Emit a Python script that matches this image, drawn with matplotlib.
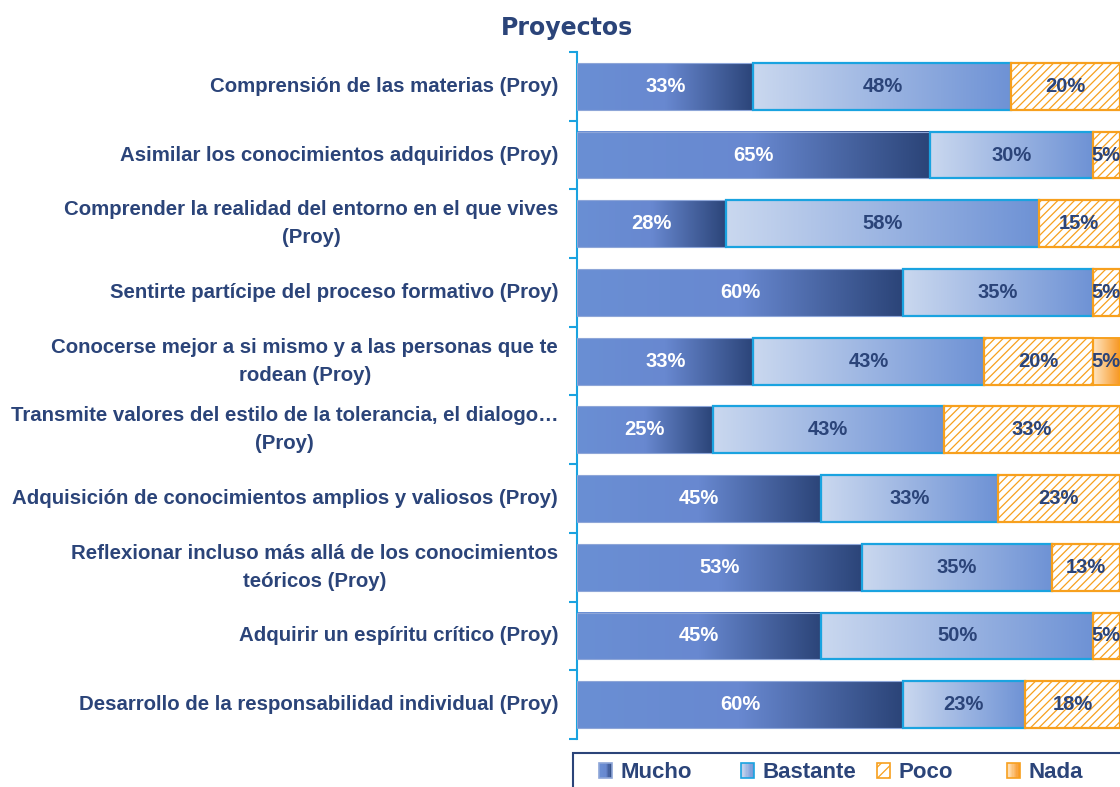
import numpy as np
import matplotlib
matplotlib.use('Agg')
import matplotlib.pyplot as plt
from matplotlib.colors import LinearSegmentedColormap
from matplotlib.patches import Rectangle
from matplotlib.legend_handler import HandlerBase
from matplotlib.transforms import ScaledTranslation

plt.rcParams['font.family'] = ['Liberation Sans', 'DejaVu Sans']
plt.rcParams['hatch.linewidth'] = 0.9

categories = [
    'Comprensión de las materias (Proy)',
    'Asimilar los conocimientos adquiridos (Proy)',
    'Comprender la realidad del entorno en el que vives\n(Proy)',
    'Sentirte partícipe del proceso formativo (Proy)',
    'Conocerse mejor a si mismo y a las personas que te\nrodean (Proy)',
    'Transmite valores del estilo de la tolerancia, el dialogo…\n(Proy)',
    'Adquisición de conocimientos amplios y valiosos (Proy)',
    'Reflexionar incluso más allá de los conocimientos\nteóricos (Proy)',
    'Adquirir un espíritu crítico (Proy)',
    'Desarrollo de la responsabilidad individual (Proy)',
]
mucho = [32.5, 65, 27.5, 60, 32.5, 25, 45, 52.5, 45, 60]
bastante = [47.5, 30, 57.5, 35, 42.5, 42.5, 32.5, 35, 50, 22.5]
poco = [20, 5, 15, 5, 20, 32.5, 22.5, 12.5, 5, 17.5]
nada = [0, 0, 0, 0, 5, 0, 0, 0, 0, 0]
series_names = ['Mucho', 'Bastante', 'Poco', 'Nada']

navy = '#2B4479'
cyan = '#1AA3E0'
orange = '#F7A01E'

cm_mucho = LinearSegmentedColormap.from_list('mucho', ['#6A8FD4', '#6888D0', '#2B4478'])
cm_bast = LinearSegmentedColormap.from_list('bast', ['#CAD8EF', '#6E92D5'])
cm_nada = LinearSegmentedColormap.from_list('nada', ['#FFE6C4', '#F7941D'])

styles = [
    dict(cmap=cm_mucho, edge='#8EA6D8', lw=0.8, hatch=None, txt='white'),
    dict(cmap=cm_bast, edge=cyan, lw=1.6, hatch=None, txt=navy),
    dict(cmap=None, edge=orange, lw=1.6, hatch='////', txt=navy),
    dict(cmap=cm_nada, edge=orange, lw=1.4, hatch=None, txt=navy),
]

fig = plt.figure(figsize=(11.2, 7.87), dpi=100)
ax = fig.add_axes([577 / 1120, 1 - 739 / 787, 1 - 577 / 1120, (739 - 52) / 787])

y = np.arange(len(categories))
h = 0.68
grad = np.linspace(0, 1, 256).reshape(1, -1)
data = [mucho, bastante, poco, nada]
left = np.zeros(len(categories))
for vals, st in zip(data, styles):
    for i, v in enumerate(vals):
        if v <= 0:
            continue
        l = left[i]
        if st['cmap'] is not None:
            ax.imshow(grad, cmap=st['cmap'], aspect='auto', interpolation='bicubic',
                      extent=(l, l + v, y[i] + h / 2, y[i] - h / 2), zorder=2)
            r = Rectangle((l, y[i] - h / 2), v, h, facecolor='none', edgecolor=st['edge'],
                          lw=st['lw'], zorder=3)
        else:
            r = Rectangle((l, y[i] - h / 2), v, h, facecolor='white', edgecolor=st['edge'],
                          lw=st['lw'], hatch=st['hatch'], zorder=3)
        ax.add_patch(r)
        ax.text(l + v / 2, y[i], f'{int(v + 0.5)}%', ha='center', va='center',
                fontsize=14.5, fontweight='bold', color=st['txt'], zorder=5)
    left += np.array(vals)

ax.set_xlim(0, 100)
ax.set_ylim(len(categories) - 0.5, -0.5)
ax.set_xticks([])
ax.set_yticks(y)
ax.set_yticklabels(categories, fontsize=14.7, fontweight='bold', color=navy)
nudge = ScaledTranslation(0, -2 / 100, fig.dpi_scale_trans)
for t in ax.get_yticklabels():
    t.set_multialignment('center')
    t.set_linespacing(1.6)
    t.set_verticalalignment('center')
    t.set_transform(t.get_transform() + nudge)
ax.tick_params(axis='y', which='major', length=0, pad=13.5)
ax.set_yticks(np.arange(len(categories) + 1) - 0.5, minor=True)
ax.tick_params(axis='y', which='minor', length=6, width=1.5, color=cyan)
for s in ['top', 'right', 'bottom']:
    ax.spines[s].set_visible(False)
ax.spines['left'].set_color(cyan)
ax.spines['left'].set_linewidth(1.5)
ax.set_zorder(1)

fig.text(567 / 1120, 1 - 28 / 787, 'Proyectos', ha='center', va='center',
         fontsize=17, fontweight='bold', color=navy, family='DejaVu Sans')


class GradHandler(HandlerBase):
    def __init__(self, st):
        super().__init__()
        self.st = st

    def create_artists(self, legend, orig_handle, xdescent, ydescent, width, height, fontsize, trans):
        st = self.st
        x0, y0 = -xdescent, -ydescent
        arts = []
        if st['cmap'] is not None:
            n = 10
            for k in range(n):
                arts.append(Rectangle((x0 + width * k / n, y0), width / n, height,
                                      facecolor=st['cmap'](k / (n - 1)), edgecolor='none',
                                      transform=trans))
            arts.append(Rectangle((x0, y0), width, height, facecolor='none',
                                  edgecolor=st['edge'], lw=1.2, transform=trans))
        else:
            arts.append(Rectangle((x0, y0), width, height, facecolor='white',
                                  edgecolor=st['edge'], lw=1.2, hatch='///', transform=trans))
        return arts


# legend frame runs off the right and bottom edges, as in the original export
fig.patches.append(Rectangle((573 / 1120, -0.05), 0.6, 0.05 + (787 - 753) / 787,
                             transform=fig.transFigure, facecolor='white',
                             edgecolor=navy, lw=1.5, zorder=0))

# Excel spaces legend entries evenly, so each entry gets its own slot
legend_x = [599, 741, 877, 1007]
for name, st, lx in zip(series_names, styles, legend_x):
    hd = Rectangle((0, 0), 1, 1)
    leg = fig.legend([hd], [name], loc='center left',
                     bbox_to_anchor=(lx / 1120, 1 - 773 / 787), frameon=False,
                     handlelength=0.6, handleheight=0.65, handletextpad=0.35,
                     borderpad=0, borderaxespad=0,
                     handler_map={hd: GradHandler(st)},
                     prop={'weight': 'bold', 'size': 16})
    for t in leg.get_texts():
        t.set_color(navy)

fig.savefig('out.png', dpi=100)
